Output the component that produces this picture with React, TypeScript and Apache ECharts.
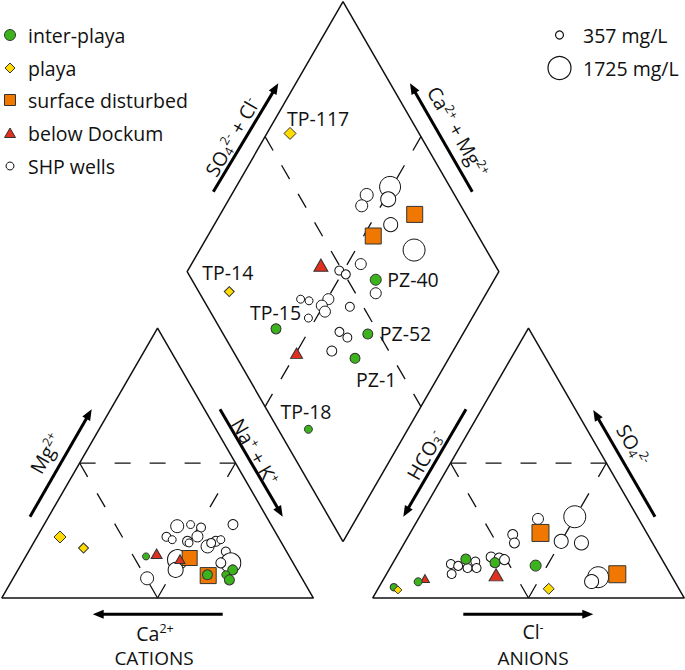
import React, { useEffect, useRef } from "react";
import * as echarts from "echarts";

// ---------------- DATA ----------------
// Cation triangle: [Na+ + K+ (%), Mg2+ (%), TDS (mg/L)]  (Ca2+ is the remainder)
const cationShpWells = [
  [43.0, 26.6, 813], [47.0, 27.2, 357], [50.9, 26.1, 448], [60.6, 27.2, 539],
  [41.5, 22.7, 448], [43.9, 21.6, 357], [49.1, 21.0, 539], [51.4, 22.8, 631],
  [56.5, 19.1, 813], [58.2, 21.0, 539], [59.5, 21.6, 357], [63.3, 17.2, 448],
  [49.3, 14.2, 1451], [50.6, 10.4, 995], [43.0, 7.3, 813], [49.9, 20.4, 357],
  [67.0, 13.0, 1451], [63.8, 13.0, 539], [57.0, 20.4, 448],
];
const cationInterPlaya = [[38.6, 15.4, 266], [61.7, 8.6, 539], [68.9, 10.4, 539], [67.6, 8.6, 357], [69.7, 6.7, 539]];
const cationPlaya = [[7.4, 22.6, 722], [17.0, 18.5, 539]];
const cationSurface = [[52.9, 14.8, 995], [62.1, 8.3, 1087]];
const cationDockum = [[41.5, 16.4, 631], [50.0, 14.4, 539]];

// Anion triangle: [Cl- (%), SO4 2- (%), TDS (mg/L)]  (HCO3- is the remainder)
const anionShpWells = [
  [18.8, 12.6, 448], [21.5, 11.9, 448], [20.9, 8.9, 448], [24.9, 11.1, 448],
  [26.2, 13.5, 448], [27.8, 11.1, 448], [30.4, 15.2, 539], [33.2, 14.8, 539],
  [35.2, 14.2, 539], [33.2, 23.5, 539], [35.3, 20.4, 539], [38.4, 29.3, 631],
  [49.8, 30.1, 1634], [50.0, 21.0, 904], [56.8, 20.4, 904], [68.5, 7.7, 1543],
  [67.2, 6.1, 904],
];
const anionInterPlaya = [[4.8, 4.0, 300], [11.6, 6.0, 357], [22.7, 14.4, 539], [32.7, 13.1, 539], [46.3, 12.0, 631]];
const anionPlaya = [[6.6, 3.0, 357], [54.8, 3.4, 631]];
const anionSurface = [[41.8, 24.1, 1178], [74.1, 8.8, 1178]];
const anionDockum = [[13.2, 7.2, 448], [35.3, 8.6, 904]];

// Diamond: [Na+ + K+ (%), SO4 2- + Cl- (%), TDS (mg/L)]
const diamondShpWells = [
  [49.4, 80.8, 1543], [51.1, 77.9, 995], [43.4, 71.8, 813], [43.8, 68.2, 722],
  [56.6, 74.0, 904], [68.8, 76.8, 1634], [54.3, 57.1, 631], [48.6, 49.0, 448],
  [51.4, 50.4, 448], [64.5, 56.5, 631], [41.5, 31.3, 357], [44.5, 33.7, 357],
  [50.4, 40.2, 631], [49.5, 36.9, 631], [51.6, 36.8, 631], [47.5, 30.3, 357],
  [58.7, 45.7, 448], [60.0, 37.7, 448], [63.6, 39.2, 448], [61.1, 31.7, 539],
];
const diamondInterPlaya = [[62.0, 59.0, 631], [39.1, 17.9, 539], [69.5, 46.4, 539], [69.9, 37.8, 539], [68.1, 9.7, 357]];
const diamondInterPlayaNames = ["PZ-40", "TP-15", "PZ-52", "PZ-1", "TP-18"];
const diamondPlaya = [[7.4, 58.6, 722], [17.2, 9.8, 539]];
const diamondPlayaNames = ["TP-117", "TP-14"];
const diamondSurface = [[62.4, 83.6, 1087], [53.1, 66.3, 1087]];
const diamondDockum = [[41.7, 44.1, 904], [50.2, 20.0, 722]];

const groupNames = ["inter-playa", "playa", "surface disturbed", "below Dockum", "SHP wells"];
const tdsLegend = [357, 1725];
const tdsLegendLabels = ["357 mg/L", "1725 mg/L"];

// ---------------- GEOMETRY / STYLE ----------------
const FONT = "'Open Sans', 'Noto Sans', sans-serif";
const FS = 19.5;
const INK = "#111";
const GREEN = "#3cb31d";
const YELLOW = "#ffdc00";
const ORANGE = "#f07800";
const RED = "#e0301e";
const EDGE = "#333";

const PX = 3.117; // pixels per percent unit
const X0 = 1.7;
const Y0 = 598;
const XMAX = 219;
const YMIN = -22;
const YMAX = 191.5;
const GAP = 19;
const DIAMOND_BASE = 18.1;
const H = Math.sqrt(3) / 2;

const cationXY = (naK: number, mg: number) => [naK + mg / 2, mg * H];
const anionXY = (cl: number, so4: number) => [100 + GAP + cl + so4 / 2, so4 * H];
const diamondXY = (naK: number, sc: number) => {
  const a = 1 - naK / 100;
  const q = sc / 100;
  return [100 + GAP / 2 + 50 * (q - a), DIAMOND_BASE + 100 * H * (q + a)];
};

const sizeOf = (tds: number) => 8 + (15 * (tds - 357)) / (1725 - 357);

const LABEL_OFFSETS: Record<string, number[]> = {
  "TP-117": [-3, -15],
  "TP-14": [-27, -19],
  "TP-15": [-26, -16],
  "PZ-40": [11.5, 0],
  "PZ-52": [12, 0],
  "PZ-1": [1, 21],
  "TP-18": [-28, -18],
};

type Pt = number[];
const pt = (fn: (a: number, b: number) => number[], p: Pt) => [...fn(p[0], p[1]), p[2]];

function buildGroup(c: Pt[], a: Pt[], d: Pt[], names?: string[]) {
  const out: any[] = [
    ...c.map((p) => pt(cationXY, p)),
    ...a.map((p) => pt(anionXY, p)),
  ];
  d.forEach((p, i) => {
    const value = pt(diamondXY, p);
    const name = names ? names[i] : "";
    if (name) {
      out.push({
        value,
        name,
        label: {
          show: true,
          formatter: name,
          position: "inside",
          align: "left",
          verticalAlign: "middle",
          offset: LABEL_OFFSETS[name] || [0, 0],
          color: INK,
          fontSize: FS,
          fontFamily: FONT,
          textBorderWidth: 0,
        },
      });
    } else out.push(value);
  });
  return out;
}

function lineSeries(pts: number[][], dash?: number[]) {
  return {
    type: "line",
    data: pts,
    symbol: "none",
    silent: true,
    z: 1,
    lineStyle: { color: INK, width: dash ? 1.3 : 1.5, type: dash || "solid" },
  };
}

function arrow(x1: number, y1: number, x2: number, y2: number) {
  const dx = x2 - x1;
  const dy = y2 - y1;
  const L = Math.hypot(dx, dy);
  const ux = dx / L;
  const uy = dy / L;
  const hl = 11;
  const hw = 4.5;
  const bx = x2 - ux * hl;
  const by = y2 - uy * hl;
  return [
    { type: "line", silent: true, shape: { x1, y1, x2: bx + ux, y2: by + uy }, style: { stroke: "#000", lineWidth: 3 } },
    {
      type: "polygon",
      silent: true,
      shape: { points: [[x2, y2], [bx - uy * hw, by + ux * hw], [bx + uy * hw, by - ux * hw]] },
      style: { fill: "#000" },
    },
  ];
}

const RICH = {
  b: { fontSize: FS, lineHeight: 22, fontFamily: FONT },
  c: { fontSize: 19, lineHeight: 20, fontFamily: FONT },
  s: { fontSize: 12.5, lineHeight: 12, verticalAlign: "top", fontFamily: FONT },
  d: { fontSize: 12.5, lineHeight: 12, verticalAlign: "bottom", fontFamily: FONT },
};

function richText(text: string, x: number, y: number, rotDeg: number) {
  return {
    type: "text",
    silent: true,
    x,
    y,
    rotation: (rotDeg * Math.PI) / 180,
    style: {
      text,
      rich: RICH,
      fill: INK,
      fontSize: FS,
      fontFamily: FONT,
      align: "center",
      verticalAlign: "middle",
      textAlign: "center",
      textVerticalAlign: "middle",
    },
  };
}

function plainText(text: string, x: number, y: number) {
  return {
    type: "text",
    silent: true,
    x,
    y,
    style: {
      text,
      fill: INK,
      fontSize: FS,
      fontFamily: FONT,
      align: "left",
      verticalAlign: "middle",
      textAlign: "left",
      textVerticalAlign: "middle",
    },
  };
}

function buildOption() {
  const T = (fn: any, pts: number[][]) => pts.map((p) => fn(p[0], p[1]));
  const series: any[] = [
    // frames
    lineSeries(T(cationXY, [[0, 0], [100, 0], [0, 100], [0, 0]])),
    lineSeries(T(anionXY, [[0, 0], [100, 0], [0, 100], [0, 0]])),
    lineSeries(T(diamondXY, [[100, 0], [100, 100], [0, 100], [0, 0], [100, 0]])),
    // inner dashed guides
    lineSeries(T(cationXY, [[0, 50], [50, 50]]), [16, 19]),
    lineSeries(T(cationXY, [[0, 50], [50, 0]]), [16, 19]),
    lineSeries(T(cationXY, [[50, 50], [50, 0]]), [16, 19]),
    lineSeries(T(anionXY, [[0, 50], [50, 50]]), [16, 19]),
    lineSeries(T(anionXY, [[0, 50], [50, 0]]), [16, 19]),
    lineSeries(T(anionXY, [[50, 50], [50, 0]]), [16, 19]),
    lineSeries(T(diamondXY, [[0, 50], [100, 50]]), [16, 17]),
    lineSeries(T(diamondXY, [[50, 100], [50, 0]]), [16, 17]),
  ];

  const base = { type: "scatter", silent: true, emphasis: { disabled: true } };
  series.push({
    ...base,
    name: groupNames[4],
    symbol: "circle",
    symbolSize: (v: number[]) => sizeOf(v[2]),
    data: buildGroup(cationShpWells, anionShpWells, diamondShpWells),
    itemStyle: { color: "#fff", borderColor: INK, borderWidth: 1, opacity: 1 },
    z: 3,
  });
  series.push({
    ...base,
    name: groupNames[2],
    symbol: "rect",
    symbolSize: (v: number[]) => sizeOf(v[2]),
    data: buildGroup(cationSurface, anionSurface, diamondSurface),
    itemStyle: { color: ORANGE, borderColor: EDGE, borderWidth: 1, opacity: 1 },
    z: 4,
  });
  series.push({
    ...base,
    name: groupNames[3],
    symbol: "triangle",
    symbolSize: (v: number[]) => {
      const s = sizeOf(v[2]);
      return [s, s * 0.87];
    },
    data: buildGroup(cationDockum, anionDockum, diamondDockum),
    itemStyle: { color: RED, borderColor: EDGE, borderWidth: 1, opacity: 1 },
    z: 5,
  });
  series.push({
    ...base,
    name: groupNames[0],
    symbol: "circle",
    symbolSize: (v: number[]) => sizeOf(v[2]),
    data: buildGroup(cationInterPlaya, anionInterPlaya, diamondInterPlaya, diamondInterPlayaNames),
    itemStyle: { color: GREEN, borderColor: EDGE, borderWidth: 1, opacity: 1 },
    z: 6,
  });
  series.push({
    ...base,
    name: groupNames[1],
    symbol: "diamond",
    symbolSize: (v: number[]) => sizeOf(v[2]),
    data: buildGroup(cationPlaya, anionPlaya, diamondPlaya, diamondPlayaNames),
    itemStyle: { color: YELLOW, borderColor: EDGE, borderWidth: 1, opacity: 1 },
    z: 7,
  });

  // legend (drawn)
  const legendY = [35, 68, 100, 133, 166];
  const lx = 10;
  const graphic: any[] = [
    { type: "circle", silent: true, shape: { cx: lx, cy: legendY[0], r: 5.5 }, style: { fill: GREEN, stroke: EDGE, lineWidth: 1 } },
    {
      type: "polygon",
      silent: true,
      shape: { points: [[lx, legendY[1] - 5], [lx + 5, legendY[1]], [lx, legendY[1] + 5], [lx - 5, legendY[1]]] },
      style: { fill: YELLOW, stroke: EDGE, lineWidth: 1 },
    },
    { type: "rect", silent: true, shape: { x: lx - 5.5, y: legendY[2] - 5.5, width: 11, height: 11 }, style: { fill: ORANGE, stroke: EDGE, lineWidth: 1 } },
    {
      type: "polygon",
      silent: true,
      shape: { points: [[lx, legendY[3] - 5], [lx + 5.5, legendY[3] + 4.5], [lx - 5.5, legendY[3] + 4.5]] },
      style: { fill: RED, stroke: EDGE, lineWidth: 1 },
    },
    { type: "circle", silent: true, shape: { cx: lx, cy: legendY[4], r: 4 }, style: { fill: "#fff", stroke: INK, lineWidth: 1 } },
    ...groupNames.map((n, i) => plainText(n, 28, legendY[i])),
    // size legend
    ...tdsLegend.map((t, i) => ({
      type: "circle",
      silent: true,
      shape: { cx: 559.5, cy: [35, 68][i], r: sizeOf(t) / 2 },
      style: { fill: "#fff", stroke: INK, lineWidth: 1.2 },
    })),
    ...tdsLegendLabels.map((t, i) => plainText(t, 583, [35, 68][i])),
    // axis titles
    richText("{b|Mg}{s|2+}", 45.7, 453.3, 60),
    richText("{b|Na}{s|+}{b| + K}{s|+}", 255, 451.7, -60),
    richText("{b|Ca}{s|2+}", 155, 633, 0),
    richText("{c|CATIONS}", 154, 658, 0),
    richText("{b|HCO}{d|3}{s|-}", 425, 455, 60),
    richText("{b|SO}{d|4}{s|2-}", 633, 445, -60),
    richText("{b|Cl}{s|-}", 533, 631.5, 0),
    richText("{c|ANIONS}", 533, 658, 0),
    richText("{b|SO}{d|4}{s|2-}{b| + Cl}{s|-}", 232, 137, 60),
    richText("{b|Ca}{s|2+}{b| + Mg}{s|2+}", 458, 131.7, -60),
    // arrows
    ...arrow(30, 516.7, 91.7, 409.3),
    ...arrow(220, 409.3, 282.7, 516.7),
    ...arrow(222.7, 614.3, 92.7, 614.3),
    ...arrow(466, 409.3, 403.3, 516.7),
    ...arrow(655, 516.7, 593.3, 410),
    ...arrow(463.3, 614.3, 593.3, 614.3),
    ...arrow(213.3, 191.7, 278.3, 83.3),
    ...arrow(472.3, 191.7, 410, 83.3),
  ];

  return {
    animation: false,
    backgroundColor: "#fff",
    grid: { left: X0, top: Y0 - YMAX * PX, width: XMAX * PX, height: (YMAX - YMIN) * PX },
    xAxis: { type: "value", min: 0, max: XMAX, show: false },
    yAxis: { type: "value", min: YMIN, max: YMAX, show: false },
    series,
    graphic,
  };
}

export default function App() {
  const ref = useRef<HTMLDivElement>(null);
  useEffect(() => {
    if (!ref.current) return;
    const chart = echarts.init(ref.current, null, { renderer: "svg" });
    chart.setOption(buildOption() as any);
    return () => chart.dispose();
  }, []);
  return (
    <div
      ref={ref}
      style={{ position: "absolute", left: 0, top: 0, width: 685, height: 670, background: "#fff" }}
    />
  );
}
